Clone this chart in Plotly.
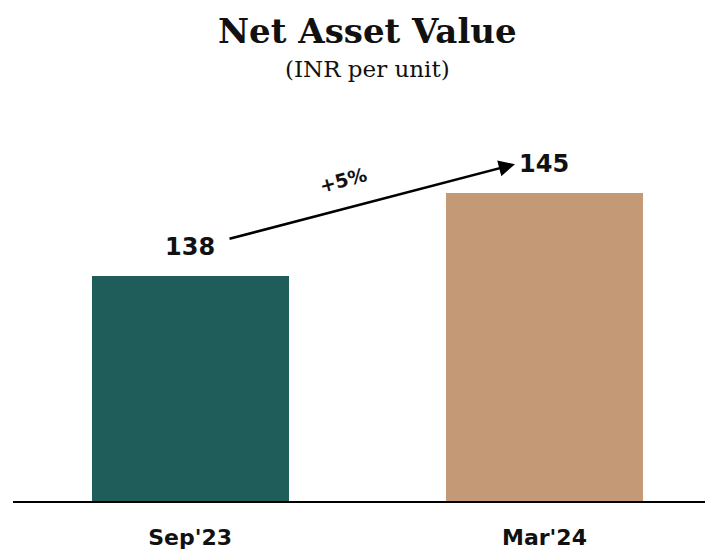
import plotly.graph_objects as go

categories = ["Sep'23", "Mar'24"]
nav_values = [138, 145]
bar_colors = ["#1E5D5A", "#C39A75"]
growth_label = "+5%"
title_text = "Net Asset Value"
subtitle_text = "(INR per unit)"

fig = go.Figure()
fig.add_trace(go.Bar(
    x=categories, y=nav_values, marker=dict(color=bar_colors, line=dict(width=0)),
    width=0.556, hoverinfo="skip",
))

# value labels
for c, v in zip(categories, nav_values):
    fig.add_annotation(x=c, y=v, text=f"<b>{v}</b>", showarrow=False,
                       xref="x", yref="y", yanchor="middle", yshift=29,
                       font=dict(family="DejaVu Sans", size=24, color="#111111"))

# growth arrow from first to second value
fig.add_annotation(x=categories[1], y=nav_values[1], xref="x", yref="y",
                   xshift=-29.5, yshift=28.5,
                   ax=-287, ay=75, axref="pixel", ayref="pixel",
                   showarrow=True, arrowhead=2, arrowsize=1.25, arrowwidth=2.6,
                   arrowcolor="#000000", text="", standoff=0, startstandoff=0)

fig.add_annotation(x=0.5, y=sum(nav_values) / 2, xref="x", yref="y",
                   text=f"<b>{growth_label}</b>", showarrow=False, textangle=-15,
                   xshift=-24.5, yshift=54.5,
                   font=dict(family="DejaVu Sans", size=19, color="#111111"))

# titles (positions relative to plot area: left edge at x=13, top at y=100)
fig.add_annotation(text=f"<b>{title_text}</b>", xref="paper", yref="paper",
                   x=(367.5 - 13) / 692, y=1 + (100 - 31) / 401, xanchor="center", yanchor="middle",
                   showarrow=False, font=dict(family="DejaVu Serif", size=34, color="#111111"))
fig.add_annotation(text=subtitle_text, xref="paper", yref="paper",
                   x=(367.5 - 13) / 692, y=1 + (100 - 69) / 401, xanchor="center", yanchor="middle",
                   showarrow=False, font=dict(family="DejaVu Serif", size=23, color="#111111"))

fig.update_layout(
    width=705, height=553,
    margin=dict(l=13, r=0, t=100, b=52, pad=0),
    paper_bgcolor="white", plot_bgcolor="white",
    showlegend=False, bargap=0,
    xaxis=dict(range=[-0.5, 1.453], showline=True, linecolor="#000000", linewidth=2,
               showgrid=False, zeroline=False, ticks="",
               tickfont=dict(family="DejaVu Sans", size=22, color="#111111"),
               ticklabelstandoff=16),
    yaxis=dict(range=[119.09, 152.79], visible=False, showgrid=False, zeroline=False),
)
fig.update_xaxes(tickvals=categories, ticktext=[f"<b>{c}</b>" for c in categories])

fig.write_html("out.html",
               config={"displayModeBar": False},
               post_script="document.body.style.margin='0';document.body.style.overflow='hidden';")
